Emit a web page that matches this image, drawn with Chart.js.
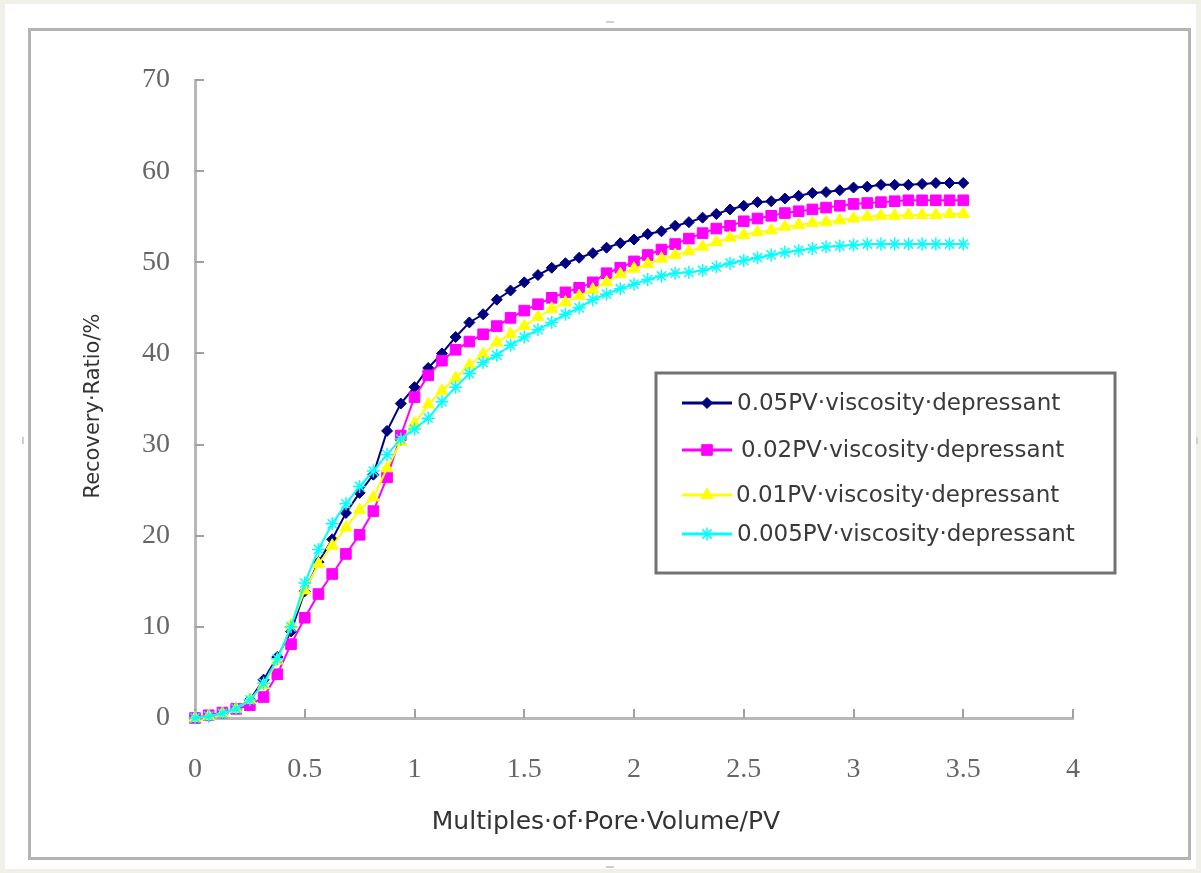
<!DOCTYPE html>
<html>
<head>
<meta charset="utf-8">
<script src="https://cdn.jsdelivr.net/npm/chart.js@4.4.0/dist/chart.umd.min.js"></script>
<style>
html, body { margin: 0; padding: 0; }
body { width: 1201px; height: 873px; background: #f0efe8; position: relative; overflow: hidden; }
#sheet { position: absolute; left: 5px; top: 4px; width: 1191px; height: 865px; background: #fff; }
#frame { position: absolute; left: 28px; top: 28px; width: 1157px; height: 826px; border: 3px solid #b4b4b4; }
.handle { position: absolute; background: #cfcfcf; }
#mainGraph { position: absolute; left: 0; top: 0; }
</style>
</head>
<body>
<div id="sheet"></div>
<div id="frame"></div>
<div class="handle" style="left:606px;top:21px;width:8px;height:2px"></div>
<div class="handle" style="left:606px;top:866px;width:8px;height:2px"></div>
<div class="handle" style="left:22px;top:437px;width:2px;height:7px"></div>
<div class="handle" style="left:1196px;top:437px;width:2px;height:7px"></div>
<canvas id="mainGraph" width="1201" height="873"></canvas>
<script>
// injected pore volumes (PV)
var pvSteps = [0, 0.0625, 0.125, 0.1875, 0.25, 0.3125, 0.375, 0.4375, 0.5, 0.5625,
    0.625, 0.6875, 0.75, 0.8125, 0.875, 0.9375, 1, 1.0625, 1.125, 1.1875,
    1.25, 1.3125, 1.375, 1.4375, 1.5, 1.5625, 1.625, 1.6875, 1.75, 1.8125,
    1.875, 1.9375, 2, 2.0625, 2.125, 2.1875, 2.25, 2.3125, 2.375, 2.4375,
    2.5, 2.5625, 2.625, 2.6875, 2.75, 2.8125, 2.875, 2.9375, 3, 3.0625,
    3.125, 3.1875, 3.25, 3.3125, 3.375, 3.4375, 3.5];

// recovery ratio (%) for each slug size
var dep005 = [0, 0.2, 0.5, 1.0, 2.0, 4.2, 6.7, 9.5, 13.9, 17.1,
    19.6, 22.5, 24.7, 26.7, 31.5, 34.5, 36.3, 38.4, 40.0, 41.8,
    43.4, 44.3, 45.9, 46.9, 47.8, 48.6, 49.4, 49.9, 50.5, 51.0,
    51.6, 52.1, 52.5, 53.1, 53.4, 54.0, 54.4, 54.9, 55.3, 55.8,
    56.2, 56.6, 56.7, 57.0, 57.3, 57.6, 57.7, 57.9, 58.2, 58.3,
    58.5, 58.5, 58.5, 58.6, 58.7, 58.7, 58.7];
var dep002 = [0, 0.3, 0.6, 1.0, 1.4, 2.3, 4.8, 8.1, 11.0, 13.6,
    15.8, 18.0, 20.1, 22.7, 26.4, 31.0, 35.2, 37.6, 39.2, 40.4,
    41.3, 42.1, 43.0, 43.9, 44.7, 45.4, 46.1, 46.7, 47.2, 47.8,
    48.8, 49.4, 50.1, 50.8, 51.4, 52.0, 52.6, 53.2, 53.7, 54.0,
    54.5, 54.8, 55.1, 55.4, 55.6, 55.8, 56.0, 56.2, 56.4, 56.5,
    56.6, 56.7, 56.8, 56.8, 56.8, 56.8, 56.8];
var dep001 = [0, 0.2, 0.5, 1.0, 2.0, 3.6, 6.3, 10.2, 14.0, 16.9,
    18.9, 20.9, 22.8, 24.2, 27.4, 30.3, 32.3, 34.4, 35.9, 37.3,
    38.7, 39.9, 41.2, 42.1, 43.0, 44.0, 44.9, 45.6, 46.3, 47.0,
    47.8, 48.7, 49.3, 49.8, 50.4, 50.8, 51.2, 51.7, 52.2, 52.7,
    53.0, 53.3, 53.5, 53.9, 54.1, 54.3, 54.4, 54.6, 54.8, 55.0,
    55.1, 55.1, 55.2, 55.2, 55.2, 55.3, 55.3];
var dep0005 = [0, 0.2, 0.5, 1.0, 2.0, 3.8, 6.5, 10.0, 14.8, 18.5,
    21.3, 23.5, 25.4, 27.1, 28.9, 30.6, 31.7, 32.9, 34.7, 36.3,
    37.8, 39.0, 39.8, 40.9, 41.8, 42.6, 43.4, 44.3, 45.0, 45.9,
    46.5, 47.1, 47.6, 48.1, 48.5, 48.8, 48.9, 49.1, 49.5, 49.9,
    50.2, 50.5, 50.8, 51.1, 51.3, 51.5, 51.7, 51.8, 51.9, 52.0,
    52.0, 52.0, 52.0, 52.0, 52.0, 52.0, 52.0];

var seriesNames = ['0.05PV·viscosity·depressant', '0.02PV·viscosity·depressant',
    '0.01PV·viscosity·depressant', '0.005PV·viscosity·depressant'];
var pvTicks = [0, 0.5, 1, 1.5, 2, 2.5, 3, 3.5, 4];
var ratioTicks = [0, 10, 20, 30, 40, 50, 60, 70];
var xTitle = 'Multiples·of·Pore·Volume/PV';
var yTitle = 'Recovery·Ratio/%';

var looks = [
    {color: '#000080', point: 'rectRot', radius: 5.5, bw: 1},
    {color: '#ff00ff', point: 'rect', radius: 7.5, bw: 1},
    {color: '#ffff00', point: 'triangle', radius: 7, bw: 1},
    {color: '#00ffff', point: 'star', radius: 6.5, bw: 1.5}
];

function toPoints(values) {
    return values.map(function (v, i) { return {x: pvSteps[i], y: v}; });
}

var allSeries = [dep005, dep002, dep001, dep0005];
var datasets = allSeries.map(function (values, i) {
    var lk = looks[i];
    return {
        label: seriesNames[i],
        data: toPoints(values),
        borderColor: lk.color,
        backgroundColor: lk.color,
        borderWidth: 2,
        pointStyle: lk.point,
        pointRadius: lk.radius,
        pointBorderWidth: lk.bw,
        pointBackgroundColor: lk.color,
        pointBorderColor: lk.color,
        tension: 0,
        fill: false,
        clip: false,
        order: 4 - i   // later series drawn on top, like the original sheet
    };
});

// small tick marks pointing into the plot
var innerTicks = {
    id: 'innerTicks',
    beforeDatasetsDraw: function (chart) {
        var ctx = chart.ctx, xs = chart.scales.x, ys = chart.scales.y;
        ctx.save();
        ctx.strokeStyle = '#a0a0a0';
        ctx.lineWidth = 2;
        ctx.beginPath();
        ys.ticks.forEach(function (t) {
            var py = Math.round(ys.getPixelForValue(t.value));
            ctx.moveTo(xs.left, py);
            ctx.lineTo(xs.left + 9, py);
        });
        xs.ticks.forEach(function (t) {
            var px = Math.round(xs.getPixelForValue(t.value));
            ctx.moveTo(px, ys.bottom);
            ctx.lineTo(px, ys.bottom - 9);
        });
        ctx.stroke();
        ctx.restore();
    }
};

// axis captions placed like the sheet's
var captions = {
    id: 'captions',
    afterDraw: function (chart) {
        var ctx = chart.ctx;
        ctx.save();
        ctx.fillStyle = '#333';
        ctx.textAlign = 'center';
        ctx.textBaseline = 'middle';
        ctx.font = '25px "DejaVu Sans"';
        ctx.fillText(xTitle, 606, 822);
        ctx.translate(94, 406);
        ctx.rotate(-Math.PI / 2);
        ctx.font = '21px "DejaVu Sans"';
        ctx.fillText(yTitle, 0, 0);
        ctx.restore();
    }
};

// boxed legend inside the plot
var boxLegend = {
    id: 'boxLegend',
    afterDraw: function (chart) {
        var ctx = chart.ctx;
        var rows = [403, 450, 495, 534];
        var textX = [737, 741, 736, 737];
        ctx.save();
        ctx.fillStyle = '#fff';
        ctx.fillRect(656, 373, 459, 200);
        ctx.strokeStyle = '#727272';
        ctx.lineWidth = 3;
        ctx.strokeRect(656, 373, 459, 200);
        chart.data.datasets.forEach(function (ds, i) {
            var y = rows[i];
            ctx.strokeStyle = ds.borderColor;
            ctx.lineWidth = 3;
            ctx.beginPath();
            ctx.moveTo(682, y);
            ctx.lineTo(732, y);
            ctx.stroke();
            ctx.fillStyle = ds.pointBackgroundColor;
            ctx.strokeStyle = ds.pointBorderColor;
            ctx.lineWidth = ds.pointBorderWidth;
            Chart.helpers.drawPoint(ctx, {
                pointStyle: ds.pointStyle, radius: ds.pointRadius,
                borderWidth: ds.pointBorderWidth, rotation: 0
            }, 707, y);
            ctx.fillStyle = '#3a3a3a';
            ctx.font = '23px "DejaVu Sans"';
            ctx.textAlign = 'left';
            ctx.textBaseline = 'middle';
            ctx.fillText(ds.label, textX[i], y + 1);
        });
        ctx.restore();
    }
};

var ctx = document.getElementById('mainGraph').getContext('2d');
var chart = new Chart(ctx, {
    type: 'line',
    data: {datasets: datasets},
    options: {
        responsive: false,
        animation: false,
        events: [],
        layout: {padding: {top: 80, right: 128, left: 0, bottom: 0}},
        plugins: {legend: {display: false}, tooltip: {enabled: false}},
        scales: {
            x: {
                type: 'linear',
                min: 0,
                max: 4,
                afterBuildTicks: function (axis) {
                    axis.ticks = pvTicks.map(function (v) { return {value: v}; });
                },
                afterFit: function (axis) { axis.height = 155; },
                grid: {display: false, drawTicks: false},
                border: {display: true, color: '#b8b8b8', width: 3},
                ticks: {
                    padding: 35,
                    color: '#666',
                    font: {family: '"Liberation Serif"', size: 28},
                    callback: function (v) { return String(v); }
                }
            },
            y: {
                type: 'linear',
                min: 0,
                max: 70,
                afterBuildTicks: function (axis) {
                    axis.ticks = ratioTicks.map(function (v) { return {value: v}; });
                },
                afterFit: function (axis) { axis.width = 195; },
                grid: {display: false, drawTicks: false},
                border: {display: true, color: '#b8b8b8', width: 3},
                ticks: {
                    padding: 25,
                    color: '#666',
                    font: {family: '"Liberation Serif"', size: 28},
                    callback: function (v) { return String(v); }
                }
            }
        }
    },
    plugins: [innerTicks, captions, boxLegend]
});
</script>
</body>
</html>
